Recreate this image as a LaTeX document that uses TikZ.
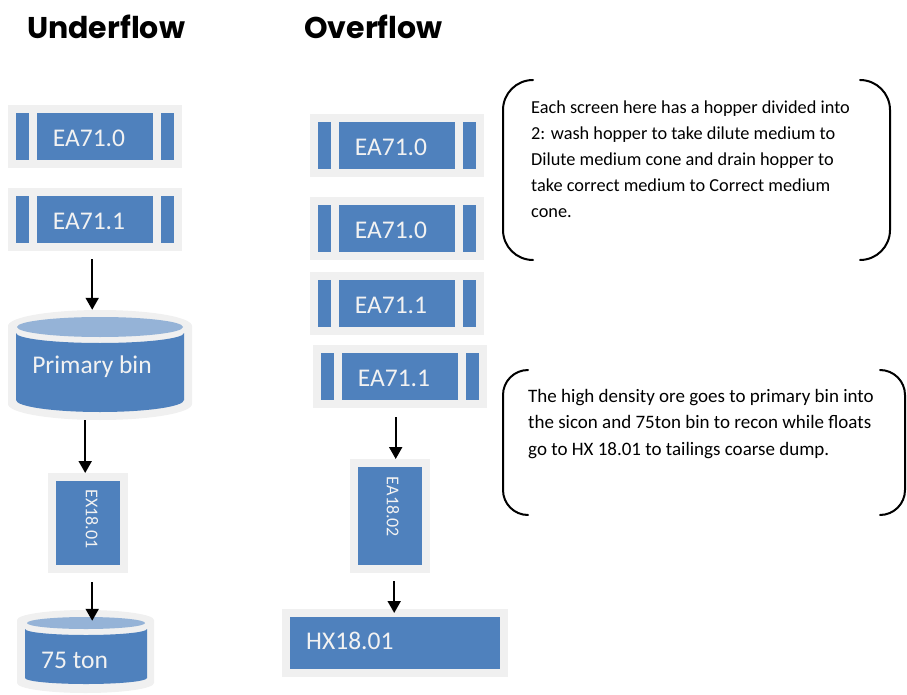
\documentclass[tikz,border=0pt]{standalone}
\usepackage{fontspec}
\setmainfont{Carlito}
\newfontfamily\titlefont{Poppins}
\usetikzlibrary{arrows.meta,calc}
\definecolor{boxblue}{HTML}{4F81BD}
\definecolor{boxgray}{HTML}{F0F0F0}
\definecolor{lidblue}{HTML}{95B3D7}
\definecolor{lbltext}{HTML}{F2F2F2}
\tikzset{
  graybox/.style={fill=boxgray, inner sep=0pt, anchor=north west},
  lbl/.style={text=lbltext, font=\fontsize{25.5}{29}\selectfont, inner sep=0pt},
  vlbl/.style={text=lbltext, font=\fontsize{18}{22}\selectfont, inner sep=0pt, rotate=-90},
  flow/.style={-{Triangle[width=13pt,length=12pt]}, line width=2pt},
  bracket/.style={line width=2pt, line cap=round},
  note/.style={font=\fontsize{18.3}{26}\selectfont, align=left, anchor=north west, inner sep=0pt},
  heading/.style={font=\titlefont\bfseries\fontsize{30}{34}\selectfont, anchor=base west, inner sep=0pt}
}
\newcommand\screenbox[4]{%
  \node[graybox, minimum width=174pt, minimum height=63pt] (#1) at (#2,#3) {};
  \fill[boxblue] ({#2+8},{#3+8}) rectangle ({#2+21},{#3+55});
  \fill[boxblue] ({#2+29},{#3+8}) rectangle ({#2+145},{#3+55});
  \fill[boxblue] ({#2+153},{#3+8}) rectangle ({#2+166},{#3+55});
  \node[lbl] (#1-t) at ({#2+81},{#3+33}) {#4};
}
\begin{document}
\begin{tikzpicture}[x=1pt,y=-1pt]
\useasboundingbox (0,0) rectangle (907,695);

% headings
\node[heading] (uf) at (27,39) {Underflow};
\node[heading] (of) at (304,39) {Overflow};

% ---------- Underflow column ----------
\screenbox{ea10}{8}{105}{EA71.0}
\screenbox{ea11}{8}{188}{EA71.1}

% primary bin
\node[inner sep=0pt, minimum width=184pt, minimum height=110pt] (bin) at (100,365) {};
\fill[boxgray] (8,326) arc[start angle=180,end angle=0,x radius=92pt,y radius=16pt]
  -- (192,404) arc[start angle=0,end angle=-180,x radius=92pt,y radius=16pt] -- cycle;
\fill[boxblue] (16,333) -- (16,400) arc[start angle=180,end angle=360,x radius=84pt,y radius=12pt]
  -- (184,333) arc[start angle=0,end angle=-180,x radius=84pt,y radius=10pt] -- cycle;
\fill[lidblue] (100,327) ellipse[x radius=83pt,y radius=10pt];
\node[lbl] (bin-t) at (92,367) {Primary bin};

% EX18.01
\node[graybox, minimum width=80pt, minimum height=100pt] (ex) at (48,473) {};
\fill[boxblue] (56,481) rectangle (120,565);
\node[vlbl] (ex-t) at (92,519) {EX18.01};

% 75 ton
\node[inner sep=0pt, minimum width=137pt, minimum height=83pt] (ton) at (85.5,651.5) {};
\fill[boxgray] (17,620) arc[start angle=180,end angle=0,x radius=68.5pt,y radius=10pt]
  -- (154,683) arc[start angle=0,end angle=-180,x radius=68.5pt,y radius=10pt] -- cycle;
\fill[boxblue] (25,629) -- (25,678) arc[start angle=180,end angle=360,x radius=61pt,y radius=6pt]
  -- (147,629) arc[start angle=0,end angle=-180,x radius=61pt,y radius=6pt] -- cycle;
\fill[lidblue] (86,623) ellipse[x radius=59pt,y radius=6pt];
\node[lbl, anchor=west] (ton-t) at (41,660) {75 ton};

% underflow arrows
\draw[flow] ($(ea11.south)+(-3,8)$) -- ($(ea11.south |- bin.north)+(-3,0)$);
\draw[flow] ($(bin.south -| ex.north)+(-3,0)$) -- ($(ex.north)+(-3,0)$);
\draw[flow] ($(ex.south)+(4,9)$) -- ($(ex.south |- ton.north)+(4,11)$);

% ---------- Overflow column ----------
\screenbox{oa}{310}{114}{EA71.0}
\screenbox{ob}{310}{197}{EA71.0}
\screenbox{oc}{310}{272}{EA71.1}
\screenbox{od}{313}{345}{EA71.1}

% EA18.02
\node[graybox, minimum width=80pt, minimum height=114pt] (ea18) at (350,459) {};
\fill[boxblue] (358,467) rectangle (422,565);
\node[vlbl] (ea18-t) at (393,507) {EA18.02};

% HX18.01
\node[graybox, minimum width=226pt, minimum height=68pt] (hx) at (282,609) {};
\fill[boxblue] (290,617) rectangle (500,669);
\node[lbl, anchor=west] (hx-t) at (306,641) {HX18.01};

% overflow arrows
\draw[flow] ($(od.south)+(-4.5,9)$) -- ($(od.south |- ea18.north)+(-4.5,0)$);
\draw[flow] ($(ea18.south)+(4,8)$) -- ($(ea18.south |- hx.north)+(4,4)$);

% ---------- notes ----------
\draw[bracket] (533,80) arc[start angle=90,end angle=180,radius=30pt] -- (503,230)
  arc[start angle=180,end angle=270,radius=30pt];
\draw[bracket] (860,80) arc[start angle=90,end angle=0,radius=30pt] -- (890,230)
  arc[start angle=0,end angle=-90,radius=30pt];
\node[note] (n1) at (531,100.5) {Each screen here has a hopper divided into\\
2: wash hopper to take dilute medium to\\
Dilute medium cone and drain hopper to\\
take correct medium to Correct medium\\
cone.};

\draw[bracket] (528,370) arc[start angle=90,end angle=180,radius=25pt] -- (503,490)
  arc[start angle=180,end angle=270,radius=25pt];
\draw[bracket] (880,370) arc[start angle=90,end angle=0,radius=25pt] -- (905,490)
  arc[start angle=0,end angle=-90,radius=25pt];
\node[note, font=\fontsize{19}{26.5}\selectfont] (n2) at (528,389) {The high density ore goes to primary bin into\\
the sicon and 75ton bin to recon while floats\\
go to HX 18.01 to tailings coarse dump.};
\end{tikzpicture}
\end{document}
